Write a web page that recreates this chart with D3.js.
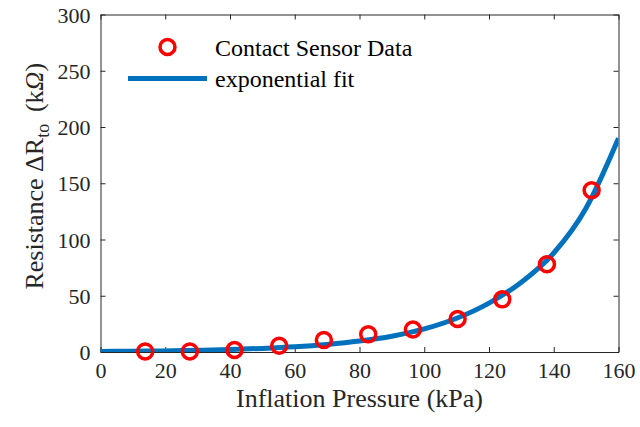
<!DOCTYPE html>
<html>
<head>
<meta charset="utf-8">
<script src="https://cdn.jsdelivr.net/npm/d3@7"></script>
<style>
  html, body { margin: 0; padding: 0; background: #fff; }
  #chart { width: 640px; height: 427px; }
  svg text { font-family: 'Liberation Serif', 'Times New Roman', serif; fill: #262626; }
</style>
</head>
<body>
<div id="chart"></div>
<script>

// measured pressure (kPa) and resistance (kOhm)
var pressure = [13.8, 27.6, 41.4, 55.2, 69.0, 82.7, 96.5, 110.3, 124.1, 137.9, 151.7];
var resistance = [0.5, 0.5, 1.8, 5.6, 10.6, 15.7, 20.0, 29.3, 46.8, 78.0, 143.8];

// exponential fit
var fitX = [0, 10, 20, 30, 40, 50, 60, 70, 80, 90, 100, 110, 120, 130, 140, 150, 160];
var fitY = [0.5, 0.7, 1.0, 1.5, 2.2, 3.2, 4.6, 6.7, 9.7, 14, 20.5, 30, 43.5, 62, 88, 128, 190];

var xTicks = [0, 20, 40, 60, 80, 100, 120, 140, 160];
var yTicks = [0, 50, 100, 150, 200, 250, 300];

var legendLabels = ['Contact Sensor Data', 'exponential fit'];

var ResistancePlot = function () {

  var id;
  var serif = "'Liberation Serif', 'Times New Roman', serif";

  function init(options) {
    id = options.id;
    draw();
  }

  function draw() {

    var container = d3.select('#' + id);

    var margin = { top: 14.5, right: 21.5, bottom: 75, left: 100.5 };
    var width = 640 - margin.left - margin.right;
    var height = 427 - margin.top - margin.bottom;

    var axisColor = '#262626';

    var x = d3.scaleLinear()
      .domain([0, 160])
      .range([0, width]);

    var y = d3.scaleLinear()
      .domain([0, 300])
      .range([height, 0]);

    var svg = container.append('svg')
      .attr('width', 640)
      .attr('height', 427);

    var g = svg.append('g')
      .attr('transform', 'translate(' + margin.left + ',' + margin.top + ')');

    svg.append('defs').append('clipPath')
        .attr('id', 'plot-clip')
      .append('rect')
        .attr('x', 0)
        .attr('y', 0)
        .attr('width', width)
        .attr('height', height);

    // Axes, MATLAB style box with inward ticks
    var bottom = g.append('g')
        .attr('transform', 'translate(0,' + height + ')')
        .call(d3.axisBottom(x).tickValues(xTicks).tickSizeInner(-5).tickSizeOuter(0).tickPadding(10));

    var top = g.append('g')
        .call(d3.axisTop(x).tickValues(xTicks).tickSizeInner(-5).tickSizeOuter(0).tickFormat(''));

    var left = g.append('g')
        .call(d3.axisLeft(y).tickValues(yTicks).tickSizeInner(-5).tickSizeOuter(0).tickPadding(10));

    var right = g.append('g')
        .attr('transform', 'translate(' + width + ',0)')
        .call(d3.axisRight(y).tickValues(yTicks).tickSizeInner(-5).tickSizeOuter(0).tickFormat(''));

    [bottom, top, left, right].forEach(function (a) {
      a.attr('font-family', serif);
      a.select('.domain').attr('stroke', axisColor).attr('stroke-width', 1);
      a.selectAll('.tick line').attr('stroke', axisColor).attr('stroke-width', 1);
      a.selectAll('.tick text')
        .attr('fill', axisColor)
        .style('font-family', serif)
        .style('font-size', '22px');
    });

    left.selectAll('.tick text').attr('dy', '0.35em');

    // Axis titles
    g.append('text')
        .attr('x', width / 2)
        .attr('y', height + 55)
        .attr('text-anchor', 'middle')
        .style('font-family', serif)
        .style('font-size', '26px')
        .text('Inflation Pressure (kPa)');

    var ylab = g.append('text')
        .attr('transform', 'translate(' + (43 - margin.left) + ',' + (height / 2 - 7) + ') rotate(-90)')
        .attr('text-anchor', 'middle')
        .style('font-family', serif)
        .style('font-size', '26px');

    ylab.append('tspan').text('Resistance \u0394R');
    ylab.append('tspan')
        .attr('dy', 6)
        .style('font-size', '18px')
        .text('to');
    ylab.append('tspan')
        .attr('dy', -6)
        .text('\u2009 (k');
    ylab.append('tspan')
        .style('font-style', 'italic')
        .text('\u03A9');
    ylab.append('tspan').text(')');

    // Fit line
    var line = d3.line()
        .x(function (d, i) { return x(fitX[i]); })
        .y(function (d) { return y(d); })
        .curve(d3.curveMonotoneX);

    g.append('path')
        .datum(fitY)
        .attr('clip-path', 'url(#plot-clip)')
        .attr('d', line)
        .attr('fill', 'none')
        .attr('stroke', '#0072BD')
        .attr('stroke-width', 5);

    // Data markers
    g.selectAll('circle.data')
        .data(resistance)
        .enter()
      .append('circle')
        .attr('class', 'data')
        .attr('cx', function (d, i) { return x(pressure[i]); })
        .attr('cy', function (d) { return y(d); })
        .attr('r', 7.5)
        .attr('fill', 'none')
        .attr('stroke', '#ff0000')
        .attr('stroke-width', 3.5);

    // Legend
    var legend = svg.append('g');

    legend.append('circle')
        .attr('cx', 167.5)
        .attr('cy', 47)
        .attr('r', 7.5)
        .attr('fill', 'none')
        .attr('stroke', '#ff0000')
        .attr('stroke-width', 3.5);

    legend.append('line')
        .attr('x1', 128)
        .attr('x2', 207)
        .attr('y1', 78.5)
        .attr('y2', 78.5)
        .attr('stroke', '#0072BD')
        .attr('stroke-width', 5);

    legend.selectAll('text')
        .data(legendLabels)
        .enter()
      .append('text')
        .attr('x', 215)
        .attr('y', function (d, i) { return 56 + i * 31; })
        .style('font-family', serif)
        .style('font-size', '24px')
        .style('fill', '#000')
        .text(function (d) { return d; });
  }

  return {
    init: init,
    draw: draw
  };
};

ResistancePlot().init({ id: 'chart' });

</script>
</body>
</html>
